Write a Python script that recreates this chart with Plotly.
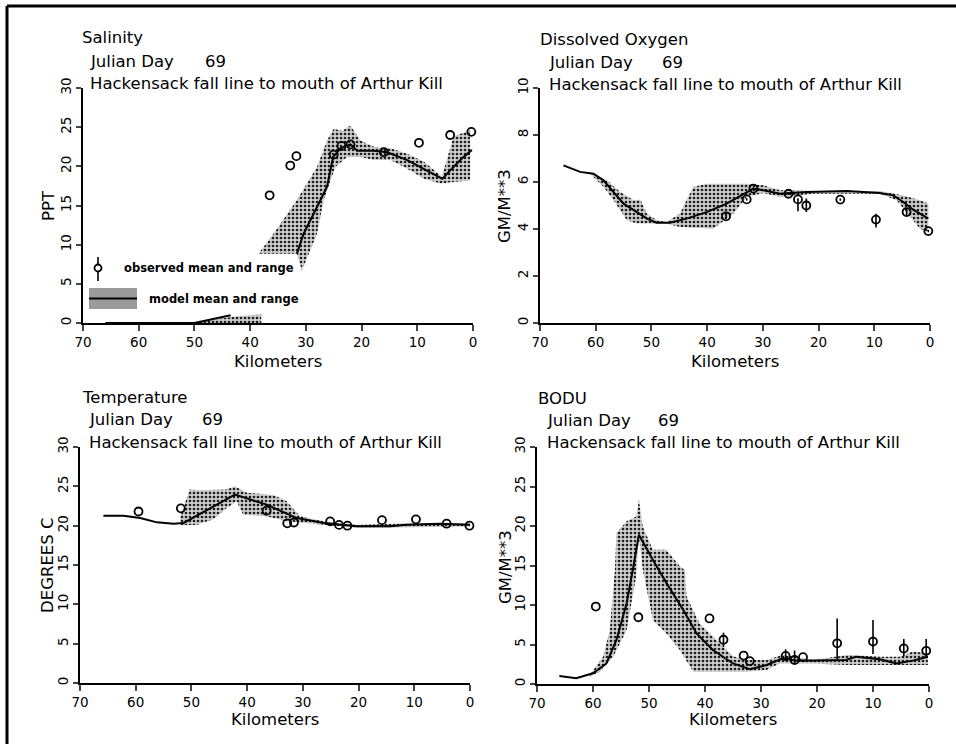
import plotly.graph_objects as go

# ---------------- data (km from mouth) ----------------
# Salinity (PPT)
sal_obs_km = [36.5, 32.8, 31.7, 25.0, 23.6, 22.0, 16.0, 9.7, 4.1, 0.3]
sal_obs_val = [16.3, 20.1, 21.3, 21.5, 22.6, 22.8, 21.8, 23.0, 24.0, 24.4]
sal_mean_km = [66, 50, 43.5, None, 31.6, 30.4, 28.0, 26.2, 25.1, 23.8, 22.0, 20.8, 17.8,
               15.4, 11.8, 8.8, 5.5, 3.8, 2.0, 0.2]
sal_mean_val = [0, 0, 1.0, None, 8.85, 11.4, 14.8, 17.4, 21.2, 22.3, 22.8, 22.0, 22.0,
                21.8, 20.8, 19.7, 18.4, 19.7, 21.0, 22.1]
sal_up_km = [38.5, 35.8, 31.6, 28.0, 26.2, 25.0, 23.5, 22.0, 20.2, 17.8, 14.8, 11.8,
             8.8, 5.6, 4.7, 3.5, 0.5]
sal_up_val = [8.85, 11.4, 15.7, 19.9, 23.3, 24.8, 24.5, 25.2, 23.3, 22.5, 22.3, 21.6,
              20.6, 18.7, 20.8, 23.8, 24.6]
sal_lo_km = [38.5, 31.6, 30.7, 28.0, 26.8, 24.7, 22.6, 20.2, 17.8, 14.8, 11.8, 8.8,
             5.8, 3.5, 0.5]
sal_lo_val = [8.85, 8.85, 6.7, 11.4, 15.7, 19.9, 21.2, 21.2, 20.8, 20.8, 19.7, 18.4,
              17.8, 18.0, 18.2]
sal_up2_km = [50, 46, 42, 38]
sal_up2_val = [0, 0.5, 0.9, 1.1]
sal_lo2_km = [50, 38]
sal_lo2_val = [0, 0]

# Dissolved oxygen (GM/M**3)
do_obs_km = [36.6, 32.9, 31.7, 25.4, 23.7, 22.2, 16.1, 9.7, 4.2, 0.3]
do_obs_val = [4.54, 5.26, 5.72, 5.5, 5.26, 5.0, 5.25, 4.4, 4.72, 3.91]
do_obs_plus = [0.1, 0.05, 0.05, 0.05, 0.05, 0.3, 0.05, 0.25, 0.15, 0.05]
do_obs_minus = [0.1, 0.05, 0.05, 0.05, 0.5, 0.28, 0.05, 0.34, 0.15, 0.05]
do_mean_km = [65.8, 62.8, 60.4, 58.6, 56.8, 55.0, 52.6, 50.8, 49.1, 46.7, 43.7, 40.1,
              36.5, 33.5, 31.7, 29.9, 26.9, 25.1, 22.1, 14.9, 9.0, 6.6, 4.8, 3.0, 0.3]
do_mean_val = [6.71, 6.43, 6.35, 6.07, 5.57, 5.08, 4.72, 4.44, 4.27, 4.27, 4.44, 4.72,
               5.08, 5.5, 5.72, 5.65, 5.5, 5.53, 5.57, 5.62, 5.53, 5.43, 5.15, 4.82, 4.44]
do_up_km = [61, 58, 55.6, 53.2, 52.0, 50.8, 49.0, 47.3, 44.9, 42.5, 40.1, 33.0, 29.9,
            26.9, 20.9, 9.0, 4.8, 1.8, 0.3]
do_up_val = [6.35, 6.07, 5.57, 5.22, 5.25, 4.65, 4.37, 4.3, 4.65, 5.79, 5.93, 5.93, 5.86,
             5.65, 5.62, 5.62, 5.43, 5.22, 5.08]
do_lo_km = [61, 58.6, 56.8, 54.4, 52.6, 47.3, 44.9, 38.9, 35.3, 32.9, 29.9, 26.9, 20.9,
            9.0, 6.0, 3.6, 1.8, 0.3]
do_lo_val = [6.35, 5.79, 5.22, 4.37, 4.23, 4.23, 4.09, 4.01, 4.65, 5.36, 5.53, 5.36, 5.5,
             5.5, 5.22, 4.51, 4.01, 3.87]

# Temperature (DEGREES C)
tmp_obs_km = [59.5, 51.9, 36.5, 32.8, 31.6, 25.1, 23.5, 22.0, 15.8, 9.7, 4.2, 0.1]
tmp_obs_val = [21.8, 22.2, 21.9, 20.3, 20.4, 20.55, 20.1, 20.0, 20.7, 20.8, 20.25, 20.0]
tmp_mean_km = [65.8, 62.2, 59.2, 56.2, 53.2, 51.4, 42.2, 36.5, 31.1, 26.3, 20.3, 14.3,
               11.4, 5.4, 0.0]
tmp_mean_val = [21.27, 21.27, 20.97, 20.42, 20.25, 20.34, 23.94, 22.67, 20.97, 20.34,
                19.92, 19.92, 20.13, 20.25, 20.13]
tmp_up_km = [52, 50.3, 48.5, 43.7, 42.2, 40.1, 35.3, 32.9, 30.5, 26.3, 20.3, 11.4, 0]
tmp_up_val = [21.2, 24.6, 24.5, 24.6, 25.0, 24.2, 23.9, 23.1, 21.2, 20.55, 20.1, 20.3, 20.3]
tmp_lo_km = [52, 49.1, 46.1, 43.7, 41.9, 40.7, 36.5, 32.9, 29.3, 26.3, 20.3, 0]
tmp_lo_val = [20.1, 20.1, 20.8, 22.2, 23.1, 21.4, 21.2, 20.55, 20.3, 20.1, 19.7, 19.9]

# BODU (GM/M**3)
bod_obs_km = [59.5, 51.9, 39.2, 36.7, 33.1, 32.0, 25.6, 24.0, 22.5, 16.4, 10.0, 4.5, 0.5]
bod_obs_val = [9.8, 8.45, 8.3, 5.6, 3.6, 2.9, 3.55, 3.04, 3.4, 5.15, 5.37, 4.5, 4.2]
bod_obs_plus = [0, 0, 0, 0.9, 0, 0, 0.85, 1.2, 0, 3.15, 2.73, 1.2, 1.5]
bod_obs_minus = [0, 0, 0, 0.9, 0, 0, 0.65, 0.5, 0, 2.15, 1.57, 1.0, 0.9]
bod_mean_km = [66, 63, 60, 57.6, 55.8, 54, 52.9, 51.8, 49.3, 46.9, 43.9, 41.5, 38.6, 35,
               32, 29, 26.1, 23.7, 20.7, 14.8, 13, 8.8, 5.8, 2.9, 0.2]
bod_mean_val = [1.01, 0.72, 1.35, 2.6, 5.6, 10.2, 14.4, 18.9, 15.7, 12.8, 9.4, 6.4, 4.3,
                2.6, 1.86, 2.4, 3.25, 2.96, 2.96, 3.04, 3.46, 3.13, 2.6, 2.96, 3.46]
bod_up_km = [60.6, 58.2, 57, 56.1, 55.8, 54, 52.3, 51.8, 51.1, 49.3, 46.9, 44.5, 43.6,
             43.3, 41, 38.6, 35, 32.6, 29, 26.1, 20.7, 14.2, 8.8, 5.2, 2.9, 0.2]
bod_up_val = [1.14, 3.46, 6.8, 14.4, 19.1, 20.6, 21.2, 23.3, 19.9, 17, 17, 14.9, 14.4,
              11.1, 7.7, 6.0, 3.5, 3.04, 3.04, 3.7, 3.04, 3.7, 3.46, 3.46, 4.1, 3.9]
bod_lo_km = [60.6, 58.8, 56.4, 54, 52.3, 51.8, 51.1, 49.3, 46.9, 44.5, 42.1, 38.6, 32.6,
             29, 26.7, 20.7, 14.8, 8.8, 0.2]
bod_lo_val = [0.93, 1.56, 3.46, 6.8, 13.6, 18.7, 14.4, 8.1, 6.4, 4.3, 1.56, 1.56, 1.56,
              1.77, 2.6, 2.6, 2.4, 2.4, 2.4]

km_ticks = [70, 60, 50, 40, 30, 20, 10, 0]

W, H = 956, 744
FONT = "DejaVu Sans"


def band(x_up, y_up, x_lo, y_lo):
    # closed polygon: upper edge, then lower edge walked back
    return list(x_up) + list(x_lo)[::-1], list(y_up) + list(y_lo)[::-1]


def px(x):
    return x / W


def py(y):
    return 1 - y / H


fig = go.Figure()

# halftone-like stipple for the model range
stipple = dict(shape=".", fgcolor="#1e1e1e", bgcolor="#cdcdcd", size=4, solidity=0.35)

panels = [
    # axis suffix, bands, mean, obs, err
    ("", [(sal_up_km, sal_up_val, sal_lo_km, sal_lo_val),
          (sal_up2_km, sal_up2_val, sal_lo2_km, sal_lo2_val)],
     (sal_mean_km, sal_mean_val), (sal_obs_km, sal_obs_val), None),
    ("2", [(do_up_km, do_up_val, do_lo_km, do_lo_val)],
     (do_mean_km, do_mean_val), (do_obs_km, do_obs_val), (do_obs_plus, do_obs_minus)),
    ("3", [(tmp_up_km, tmp_up_val, tmp_lo_km, tmp_lo_val)],
     (tmp_mean_km, tmp_mean_val), (tmp_obs_km, tmp_obs_val), None),
    ("4", [(bod_up_km, bod_up_val, bod_lo_km, bod_lo_val)],
     (bod_mean_km, bod_mean_val), (bod_obs_km, bod_obs_val), (bod_obs_plus, bod_obs_minus)),
]

for suf, bands, mean, obs, err in panels:
    xa, ya = "x" + suf, "y" + suf
    for b in bands:
        bx, by = band(*b)
        fig.add_trace(go.Scatter(x=bx, y=by, xaxis=xa, yaxis=ya, mode="lines", fill="toself",
                                 fillcolor="#cdcdcd", fillpattern=stipple,
                                 line=dict(width=0), hoverinfo="skip", showlegend=False))
    fig.add_trace(go.Scatter(x=mean[0], y=mean[1], xaxis=xa, yaxis=ya, mode="lines",
                             line=dict(color="black", width=2), connectgaps=False,
                             showlegend=False))
    ey = None
    if err is not None:
        ey = dict(type="data", symmetric=False, array=err[0], arrayminus=err[1],
                  color="black", thickness=1.6, width=0)
    fig.add_trace(go.Scatter(x=obs[0], y=obs[1], xaxis=xa, yaxis=ya, mode="markers",
                             marker=dict(symbol="circle-open", size=8, color="black",
                                         line=dict(width=1.8)),
                             error_y=ey, cliponaxis=False, showlegend=False))

# axis domains in pixels: (x_left, x_right, y_bottom, y_top)
doms = {
    "": (83, 473, 323, 88),
    "2": (540, 930, 323, 88),
    "3": (80, 470, 683, 447),
    "4": (537, 929, 684, 447),
}
ymax_of = {"": (30, 5), "2": (10, 2), "3": (30, 5), "4": (30, 5)}

layout = dict(template="none", width=W, height=H,
              margin=dict(l=0, r=0, t=0, b=0, pad=0, autoexpand=False),
              plot_bgcolor="white", paper_bgcolor="white", showlegend=False,
              font=dict(family=FONT, color="black"))
for suf, (x0, x1, yb, yt) in doms.items():
    ymax, dtick = ymax_of[suf]
    layout["xaxis" + suf] = dict(domain=[px(x0), px(x1)], range=[70, 0], anchor="y" + suf,
                                 tickvals=km_ticks, ticks="outside", ticklen=6, tickwidth=1.5,
                                 showline=True, linecolor="black", linewidth=2,
                                 showgrid=False, zeroline=False, automargin=False,
                                 tickfont=dict(size=13.5, family=FONT, color="black"))
    layout["yaxis" + suf] = dict(domain=[py(yb), py(yt)], range=[0, ymax], anchor="x" + suf,
                                 dtick=dtick, ticks="outside", ticklen=5, tickwidth=1.5,
                                 tickangle=-90, showline=True, linecolor="black", linewidth=2,
                                 showgrid=False, zeroline=False, automargin=False,
                                 tickfont=dict(size=13.5, family=FONT, color="black"))
fig.update_layout(**layout)

ann = []


def text(x, y, s, size=16.5, angle=0, xanchor="left", bold=False):
    ann.append(dict(x=px(x), y=py(y), xref="paper", yref="paper", text=("<b>%s</b>" % s) if bold else s,
                    showarrow=False, xanchor=xanchor, yanchor="middle", textangle=angle,
                    font=dict(size=size, family=FONT, color="black")))


titles = [
    ("Salinity", 80, 38, 88, 203, 61, 83),
    ("Dissolved Oxygen", 538, 40, 547, 660, 62, 84),
    ("Temperature", 80, 397, 87, 200, 419, 442),
    ("BODU", 536, 398, 545, 656, 420, 442),
]
for name, tx, ty, jx, nx, jy, hy in titles:
    text(tx, ty, name)
    text(jx, jy, "Julian Day")
    text(nx, jy, "69")
    text(jx, hy, "Hackensack fall line to mouth of Arthur Kill")

text(278, 361, "Kilometers", xanchor="center")
text(735, 361, "Kilometers", xanchor="center")
text(275, 719, "Kilometers", xanchor="center")
text(733, 719, "Kilometers", xanchor="center")
text(49, 206, "PPT", angle=-90, xanchor="center")
text(505, 206, "GM/M**3", angle=-90, xanchor="center")
text(47, 566, "DEGREES C", angle=-90, xanchor="center")
text(505, 567, "GM/M**3", angle=-90, xanchor="center")

# legend drawn inside the salinity panel
text(122, 268, "observed mean and range", size=11.5, bold=True)
text(147, 299, "model mean and range", size=11.5, bold=True)

shapes = [
    # page frame (top and left rules)
    dict(type="line", xref="paper", yref="paper", x0=px(7), x1=1, y0=py(6), y1=py(6),
         line=dict(color="black", width=3)),
    dict(type="line", xref="paper", yref="paper", x0=px(7), x1=px(7), y0=0, y1=py(6),
         line=dict(color="black", width=3)),
    # legend: observed symbol
    dict(type="line", xref="paper", yref="paper", x0=px(98), x1=px(98), y0=py(281), y1=py(257),
         line=dict(color="black", width=1.6)),
    dict(type="circle", xref="paper", yref="paper", x0=px(94.5), x1=px(101.5), y0=py(271.5),
         y1=py(264.5), line=dict(color="black", width=1.8), fillcolor="white"),
    # legend: model swatch
    dict(type="rect", xref="paper", yref="paper", x0=px(89), x1=px(137), y0=py(309), y1=py(288),
         line=dict(width=0), fillcolor="#9a9a9a"),
    dict(type="line", xref="paper", yref="paper", x0=px(89), x1=px(137), y0=py(298.5),
         y1=py(298.5), line=dict(color="black", width=2)),
]
fig.update_layout(annotations=ann, shapes=shapes)

fig.write_html("out.html", config={"displayModeBar": False},
               post_script="document.body.style.margin='0';")
